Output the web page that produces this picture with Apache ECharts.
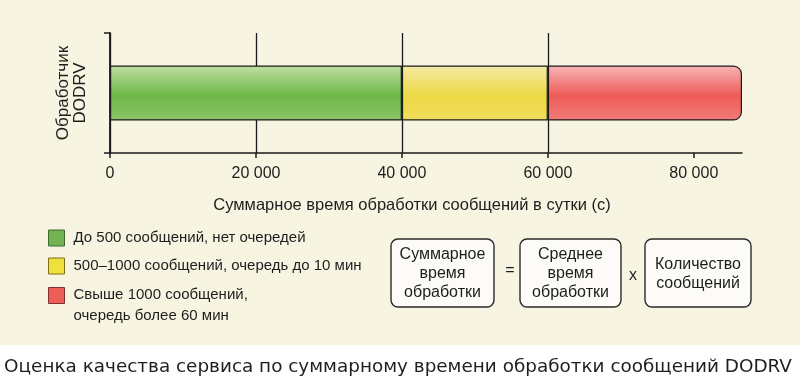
<!DOCTYPE html>
<html>
<head>
<meta charset="utf-8">
<script src="https://cdn.jsdelivr.net/npm/echarts@6/dist/echarts.min.js"></script>
<style>
  html, body { margin: 0; padding: 0; }
  body { background: linear-gradient(to bottom, #f8f4e2 0px, #f8f4e2 345px, #ffffff 345px, #ffffff 383px); }
  #chart { width: 800px; height: 383px; }
</style>
</head>
<body>
<div id="chart"></div>
<script>
// ---- data ----
const categories = ['Обработчик DODRV'];
const seriesNames = [
  'До 500 сообщений, нет очередей',
  '500–1000 сообщений, очередь до 10 мин',
  'Свыше 1000 сообщений,\nочередь более 60 мин'
];
const greenValues = [40000];   // 0 – 40 000
const yellowValues = [20000];  // 40 000 – 60 000
const redValues = [26600];     // 60 000 – 86 600
const xTicks = [0, 20000, 40000, 60000, 80000];
const xTickLabels = ['0', '20 000', '40 000', '60 000', '80 000'];
const xMax = 86600;
const xAxisTitle = 'Суммарное время обработки сообщений в сутки (с)';
const yAxisTitle = 'Обработчик\nDODRV';
const formulaBoxes = ['Суммарное\nвремя\nобработки', 'Среднее\nвремя\nобработки', 'Количество\nсообщений'];
const formulaOps = ['=', 'x'];
const caption = 'Оценка качества сервиса по суммарному времени обработки сообщений DODRV';

// ---- styles ----
const FONT = 'Liberation Sans, Arial, sans-serif';
const INK = '#1d1d1d';
function vgrad(top, mid, bottom) {
  return new echarts.graphic.LinearGradient(0, 0, 0, 1, [
    { offset: 0, color: top }, { offset: 0.55, color: mid }, { offset: 1, color: bottom }
  ]);
}
const fills = [
  vgrad('#bfe0a3', '#6eb647', '#8cc66a'),
  vgrad('#f4eaa6', '#ecd944', '#f0dc5c'),
  vgrad('#f6b6b4', '#ee5b58', '#f17c78')
];
const legendColors = [
  { color: '#74b354', borderColor: '#3f6b2e' },
  { color: '#efe03c', borderColor: '#7c6e1c' },
  { color: '#ee5e58', borderColor: '#843030' }
];
const valuesList = [greenValues, yellowValues, redValues];

const chart = echarts.init(document.getElementById('chart'), null, { renderer: 'canvas' });

const series = seriesNames.map((name, i) => ({
  name: name,
  type: 'bar',
  stack: 'total',
  barWidth: 55,
  data: valuesList[i],
  itemStyle: {
    color: fills[i],
    borderColor: '#1a1a1a',
    borderWidth: 1.2,
    borderRadius: i === 2 ? [0, 8, 8, 0] : 0
  },
  emphasis: { disabled: true },
  z: 1
}));

// formula boxes
const boxX = [391, 520, 645];
const boxW = [103, 101, 106];
const boxY = 239, boxH = 68;
const graphics = [];
formulaBoxes.forEach((t, i) => {
  graphics.push({
    type: 'rect',
    shape: { x: boxX[i], y: boxY, width: boxW[i], height: boxH, r: 7 },
    style: { fill: '#fcfbf7', stroke: '#2a2a2a', lineWidth: 1.4 }
  });
  graphics.push({
    type: 'text',
    x: boxX[i] + boxW[i] / 2,
    y: boxY + boxH / 2 + 1,
    style: {
      text: t, fill: INK, font: '16px ' + FONT, lineHeight: 19,
      align: 'center', verticalAlign: 'middle'
    }
  });
});
const opX = [510, 633];
const opY = [271, 276];
formulaOps.forEach((t, i) => {
  graphics.push({
    type: 'text', x: opX[i], y: opY[i],
    style: { text: t, fill: INK, font: '16px ' + FONT, align: 'center', verticalAlign: 'middle' }
  });
});
graphics.push({
  type: 'text', x: 398, y: 367,
  style: { text: caption, fill: '#1f1f1f', font: '18.4px DejaVu Sans, sans-serif', align: 'center', verticalAlign: 'middle' }
});

const legendItem = i => ({
  name: seriesNames[i],
  itemStyle: { color: legendColors[i].color, borderColor: legendColors[i].borderColor, borderWidth: 1 }
});
const legendBase = {
  orient: 'vertical',
  left: 48,
  padding: 0,
  itemWidth: 16,
  itemHeight: 16,
  itemGap: 10,
  icon: 'rect',
  selectedMode: false
};

chart.setOption({
  animation: false,
  grid: { left: 110, right: 58, top: 33, height: 120 },
  xAxis: {
    type: 'value',
    min: 0,
    max: xMax,
    interval: 20000,
    name: xAxisTitle,
    nameLocation: 'middle',
    nameGap: 44,
    nameTextStyle: { fontFamily: FONT, fontSize: 16.5, color: INK, padding: [0, 28, 0, 0] },
    axisLine: { show: true, lineStyle: { color: '#1a1a1a', width: 1.5 } },
    axisTick: { show: true, length: 5, customValues: xTicks, lineStyle: { color: '#1a1a1a', width: 1.5 } },
    axisLabel: {
      customValues: xTicks,
      margin: 13,
      fontFamily: FONT, fontSize: 16, color: INK,
      formatter: v => xTickLabels[xTicks.indexOf(v)] ?? ''
    },
    splitLine: { show: true, showMaxLine: false, lineStyle: { color: '#1a1a1a', width: 1.3 } }
  },
  yAxis: {
    type: 'category',
    data: categories,
    name: yAxisTitle,
    nameLocation: 'middle',
    nameRotate: 90,
    nameGap: 21,
    nameTextStyle: { fontFamily: FONT, fontSize: 17, color: INK, lineHeight: 17, align: 'center' },
    axisLine: { show: true, lineStyle: { color: '#1a1a1a', width: 1.8 } },
    axisTick: { show: true, length: 6, lineStyle: { color: '#1a1a1a', width: 1.5 } },
    axisLabel: { show: false },
    splitLine: { show: false }
  },
  legend: [
    Object.assign({}, legendBase, {
      top: 229,
      textStyle: { fontFamily: FONT, fontSize: 15, color: INK, lineHeight: 18, padding: [0, 0, 0, 4] },
      data: [legendItem(0), legendItem(1)]
    }),
    Object.assign({}, legendBase, {
      top: 287,
      formatter: name => {
        const parts = name.split('\n');
        return '{a|' + parts[0] + '}\n{b|' + parts[1] + '}';
      },
      textStyle: {
        fontFamily: FONT, fontSize: 15, color: INK, padding: [0, 0, 0, 4],
        rich: {
          a: { fontFamily: FONT, fontSize: 15, color: INK, lineHeight: 41 },
          b: { fontFamily: FONT, fontSize: 15, color: INK, lineHeight: 1 }
        }
      },
      data: [legendItem(2)]
    })
  ],
  graphic: graphics,
  series: series
});
</script>
</body>
</html>
